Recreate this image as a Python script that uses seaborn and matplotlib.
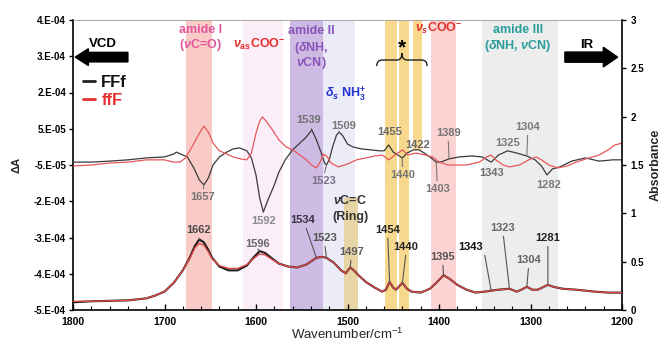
import numpy as np
import pandas as pd
import matplotlib
matplotlib.use("Agg")
import matplotlib.pyplot as plt
import seaborn as sns
from matplotlib.patches import FancyArrow, PathPatch
from matplotlib.path import Path
from matplotlib.lines import Line2D

# VCD spectra, Delta A in units of 1e-5
vcd_wn_FFf = [1800, 1780, 1760, 1740, 1720, 1700, 1690, 1687, 1680, 1675, 1668, 1662, 1657, 1652, 1647,
              1640, 1632, 1625, 1618, 1610, 1605, 1600, 1596, 1592, 1587, 1580, 1575, 1568, 1560, 1552,
              1545, 1539, 1534, 1529, 1525, 1523, 1520, 1516, 1512, 1509, 1505, 1500, 1494, 1485, 1475,
              1465, 1460, 1455, 1450, 1445, 1440, 1435, 1428, 1422, 1416, 1410, 1403, 1398, 1389, 1378,
              1364, 1353, 1343, 1335, 1325, 1315, 1304, 1295, 1288, 1282, 1276, 1268, 1255, 1240, 1225,
              1210, 1200]
vcd_FFf = [-4.1, -4.1, -3.8, -3.4, -2.8, -2.5, -1.6, -1.0, -1.9, -2.5, -5.9, -9.6, -11.2, -9.0, -5.0,
           -2.5, -1.0, 0.0, 0.3, -0.6, -2.8, -8.1, -15.2, -19.6, -15.9, -11.2, -7.2, -3.4, -0.3, 1.8,
           3.7, 5.9, 2.8, -1.0, -4.4, -5.0, -3.4, 0.9, 4.3, 5.2, 4.0, 1.5, 0.6, 0.0, -0.3,
           -0.6, -0.6, 1.2, -1.0, -1.9, -2.8, -1.3, -0.3, -0.3, -1.3, -2.5, -4.1, -4.1, -3.1, -2.5,
           -2.2, -2.5, -4.1, -1.9, -0.6, -1.3, -2.2, -3.4, -5.3, -8.1, -6.2, -5.6, -3.8, -2.8, -3.8,
           -3.4, -3.4]

vcd_wn_ffF = [1800, 1780, 1760, 1740, 1720, 1700, 1690, 1683, 1677, 1670, 1663, 1657, 1652, 1647, 1640,
              1632, 1625, 1617, 1610, 1605, 1600, 1596, 1593, 1588, 1582, 1575, 1567, 1560, 1552, 1545,
              1538, 1534, 1530, 1526, 1522, 1518, 1510, 1500, 1490, 1480, 1470, 1462, 1455, 1448, 1440,
              1434, 1425, 1415, 1407, 1400, 1390, 1370, 1356, 1348, 1343, 1338, 1330, 1323, 1312, 1302,
              1294, 1288, 1280, 1270, 1260, 1250, 1236, 1225, 1215, 1208, 1200]
vcd_ffF = [-5.3, -5.0, -4.4, -4.1, -3.4, -3.4, -4.1, -4.1, -2.8, 0.6, 4.3, 7.1, 5.2, 1.8, -0.6,
           -1.6, -2.5, -3.1, -3.4, -1.3, 4.9, 8.6, 9.9, 8.3, 5.9, 2.8, 0.6, -0.3, -1.9, -3.4,
           -5.3, -5.9, -4.1, -1.6, -2.5, -4.4, -5.6, -4.7, -3.4, -2.8, -2.2, -1.9, -3.4, -1.9, -0.3,
           -1.9, -1.3, -1.9, -2.5, -4.1, -5.0, -5.0, -4.1, -2.5, -1.9, -3.4, -5.0, -5.6, -5.0, -3.4,
           -2.5, -3.4, -5.0, -5.9, -5.3, -4.1, -2.8, -1.9, -0.3, 1.2, 1.8]

# IR absorbance
ir_wn = [1800, 1780, 1760, 1740, 1720, 1710, 1700, 1690, 1680, 1672, 1667, 1662, 1657, 1652, 1648,
         1640, 1630, 1620, 1610, 1603, 1596, 1590, 1582, 1575, 1565, 1555, 1545, 1534, 1528, 1523,
         1515, 1507, 1502, 1497, 1493, 1488, 1480, 1470, 1462, 1458, 1454, 1450, 1447, 1440, 1435,
         1430, 1420, 1410, 1403, 1395, 1388, 1380, 1370, 1360, 1350, 1343, 1335, 1323, 1315, 1310,
         1304, 1298, 1292, 1281, 1275, 1265, 1250, 1230, 1215, 1200]
ir_FFf = [0.08, 0.09, 0.095, 0.10, 0.12, 0.15, 0.19, 0.28, 0.41, 0.55, 0.66, 0.73, 0.70, 0.62, 0.54,
          0.45, 0.41, 0.41, 0.46, 0.54, 0.61, 0.59, 0.53, 0.48, 0.45, 0.44, 0.47, 0.54, 0.55, 0.54,
          0.49, 0.41, 0.38, 0.44, 0.41, 0.36, 0.29, 0.23, 0.19, 0.21, 0.29, 0.23, 0.21, 0.28, 0.22,
          0.19, 0.18, 0.22, 0.28, 0.36, 0.32, 0.26, 0.21, 0.18, 0.19, 0.20, 0.21, 0.22, 0.19, 0.21,
          0.24, 0.21, 0.21, 0.26, 0.24, 0.22, 0.21, 0.19, 0.18, 0.18]
ir_ffF = [0.09, 0.09, 0.095, 0.10, 0.12, 0.15, 0.19, 0.28, 0.41, 0.54, 0.64, 0.69, 0.67, 0.60, 0.53,
          0.46, 0.43, 0.43, 0.47, 0.53, 0.58, 0.57, 0.52, 0.48, 0.45, 0.44, 0.47, 0.54, 0.55, 0.54,
          0.49, 0.41, 0.38, 0.44, 0.41, 0.36, 0.29, 0.23, 0.19, 0.21, 0.29, 0.23, 0.21, 0.28, 0.22,
          0.19, 0.18, 0.22, 0.28, 0.36, 0.32, 0.26, 0.21, 0.18, 0.19, 0.20, 0.21, 0.22, 0.19, 0.21,
          0.24, 0.21, 0.21, 0.26, 0.24, 0.22, 0.21, 0.19, 0.18, 0.18]

left_ticklabels = ["-5.E-04", "-4.E-04", "-3.E-04", "-2.E-04", "-5.E-05", "5.E-05", "2.E-04", "3.E-04", "4.E-04"]
right_ticklabels = ["0", "0.5", "1", "1.5", "2", "2.5", "3"]

# assignment bands: (start, end, colour, ymin, ymax)
bands = [
    (1677, 1648, "#f9cbc6", 0, 1),
    (1614, 1570, "#fbeef8", 0, 1),
    (1563, 1527, "#cdbbe3", 0, 1),
    (1527, 1492, "#ececf9", 0, 1),
    (1504, 1489, "#e8d5a6", 0, 0.386),
    (1459, 1446, "#f7d88c", 0, 1),
    (1444, 1433, "#f7d88c", 0, 1),
    (1428, 1419, "#f7d88c", 0.552, 1),
    (1409, 1381, "#fcd3d3", 0, 1),
    (1353, 1270, "#ededed", 0, 1),
]

band_labels = [
    ("amide I", 1661, 0.966, "#e2579b"),
    ("($\\nu$C=O)", 1661, 0.914, "#e2579b"),
    ("$\\nu_{\\mathrm{as}}$COO$^{-}$", 1596, 0.917, "#e3302b"),
    ("amide II", 1540, 0.962, "#8a55b8"),
    ("($\\delta$NH,", 1540, 0.903, "#8a55b8"),
    ("$\\nu$CN)", 1540, 0.852, "#8a55b8"),
    ("$\\delta_{s}$ NH$_{3}^{+}$", 1502, 0.745, "#2233d0"),
    ("$\\nu_{s}$COO$^{-}$", 1400, 0.972, "#e3302b"),
    ("amide III", 1314, 0.966, "#2a9d9b"),
    ("($\\delta$NH, $\\nu$CN)", 1314, 0.910, "#2a9d9b"),
    ("$\\nu$C=C", 1497, 0.379, "#333333"),
    ("(Ring)", 1497, 0.321, "#333333"),
]

# peak labels: text, text wn, text y (axes frac), peak wn (None = no line), relpos, colour
vcd_peaks = [
    ("1657", 1658, 0.390, 1657, (0.5, 1), "#767676"),
    ("1592", 1592, 0.307, 1592, (0.5, 1), "#8a8a8a"),
    ("1539", 1543, 0.655, 1539, (0.6, 0), "#707070"),
    ("1523", 1526, 0.445, 1523, (0.5, 1), "#7b7288"),
    ("1509", 1504, 0.634, 1509, (0.3, 0), "#767676"),
    ("1455", 1454, 0.614, None, None, "#6a6a6a"),
    ("1440", 1440, 0.466, 1440, (0.5, 1), "#767676"),
    ("1422", 1423, 0.569, None, None, "#6a6a6a"),
    ("1389", 1390, 0.610, 1389, (0.5, 0), "#767676"),
    ("1403", 1402, 0.417, 1403, (0.5, 1), "#767676"),
    ("1343", 1343, 0.472, None, None, "#707070"),
    ("1325", 1325, 0.576, None, None, "#7a7a7a"),
    ("1304", 1303, 0.631, 1304, (0.5, 0), "#7a7a7a"),
    ("1282", 1280, 0.431, None, None, "#7a7a7a"),
]
ir_peaks = [
    ("1662", 1663, 0.276, 1662, (0.5, 0), "#4a4a4a"),
    ("1596", 1598, 0.228, 1596, (0.5, 0), "#666666"),
    ("1534", 1549, 0.310, 1534, (0.6, 0), "#3a3045"),
    ("1523", 1525, 0.248, 1523, (0.5, 0), "#555555"),
    ("1497", 1496, 0.200, 1497, (0.5, 0), "#606060"),
    ("1454", 1456, 0.276, 1454, (0.5, 0), "#222222"),
    ("1440", 1436, 0.217, 1440, (0.5, 0), "#222222"),
    ("1395", 1396, 0.183, 1395, (0.5, 0), "#555555"),
    ("1343", 1365, 0.217, 1343, (1.0, 0.5), "#111111"),
    ("1323", 1330, 0.283, 1323, (0.5, 0), "#666666"),
    ("1304", 1302, 0.172, 1304, (0.5, 0), "#666666"),
    ("1281", 1281, 0.248, 1281, (0.5, 0), "#222222"),
]


def value_at(wn, xs, ys):
    return np.interp(wn, xs[::-1], ys[::-1])


sns.set_style("ticks")
plt.rcParams["font.family"] = ["Liberation Sans", "DejaVu Sans"]
plt.rcParams["mathtext.fontset"] = "custom"
plt.rcParams["mathtext.rm"] = "Liberation Sans:bold"
plt.rcParams["mathtext.it"] = "Liberation Sans:italic:bold"
plt.rcParams["mathtext.bf"] = "Liberation Sans:bold"

fig = plt.figure(figsize=(6.64, 3.43), dpi=100)
ax = fig.add_axes([73 / 664, 33 / 343, 549 / 664, 290 / 343])
ax2 = ax.twinx()

for start, end, col, y0, y1 in bands:
    ax.axvspan(end, start, ymin=y0, ymax=y1, color=col, lw=0, zorder=0)

vcd_black = np.array(vcd_FFf) * 1e-5
vcd_red = np.array(vcd_ffF) * 1e-5
df_vcd1 = pd.DataFrame({"wn": vcd_wn_FFf, "dA": vcd_black})
df_vcd2 = pd.DataFrame({"wn": vcd_wn_ffF, "dA": vcd_red})
df_ir = pd.DataFrame({"wn": ir_wn, "FFf": ir_FFf, "ffF": ir_ffF})

sns.lineplot(data=df_vcd1, x="wn", y="dA", ax=ax, color="#3a3a3a", lw=0.9, estimator=None, sort=False, zorder=3)
sns.lineplot(data=df_vcd2, x="wn", y="dA", ax=ax, color="#e8585a", lw=0.9, estimator=None, sort=False, zorder=3)
sns.lineplot(data=df_ir, x="wn", y="FFf", ax=ax2, color="#1e1e1e", lw=1.5, estimator=None, sort=False, zorder=3)
sns.lineplot(data=df_ir, x="wn", y="ffF", ax=ax2, color="#e04848", lw=1.0, estimator=None, sort=False, zorder=4)

ax.set_xlim(1800, 1200)
ax.set_ylim(-5e-4, 4e-4)
ax2.set_ylim(0, 3)

ax.set_xticks(np.arange(1800, 1199, -100), [str(v) for v in range(1800, 1199, -100)],
              fontsize=7.5, fontweight="bold")
ax.set_xticks(np.arange(1800, 1199, -20), minor=True)
ax.set_yticks(np.linspace(-5e-4, 4e-4, 9), left_ticklabels, fontsize=7, fontweight="bold")
ax2.set_yticks(np.arange(0, 3.01, 0.5), right_ticklabels, fontsize=7, fontweight="bold")
ax.tick_params(axis="x", which="major", direction="in", length=4, width=1, colors="k", pad=5)
ax.tick_params(axis="x", which="minor", direction="in", length=3, width=0.8, colors="k")
ax.tick_params(axis="y", direction="out", length=3, width=1, colors="k", pad=2)
ax2.tick_params(axis="y", direction="out", length=3, width=1, colors="k", pad=3)

for side in ["left", "bottom"]:
    ax.spines[side].set_color("k")
    ax.spines[side].set_linewidth(1.2)
ax.spines["right"].set_visible(False)
ax.spines["top"].set_color("#9a9a9a")
ax.spines["top"].set_linewidth(0.6)
for side in ["left", "bottom", "top"]:
    ax2.spines[side].set_visible(False)
ax2.spines["right"].set_color("k")
ax2.spines["right"].set_linewidth(1.2)

ax.set_xlabel("Wavenumber/cm$\\mathregular{^{-1}}$", fontsize=9.5, labelpad=0)
ax.set_ylabel("ΔA", fontsize=8, fontweight="bold")
ax.yaxis.set_label_coords(-0.094, 0.5)
ax2.set_ylabel("Absorbance", fontsize=9, fontweight="bold")
ax2.yaxis.set_label_coords(1.05, 0.5)

tr = ax2.get_xaxis_transform()
for txt, x, y, col in band_labels:
    ax2.text(x, y, txt, transform=tr, ha="center", va="center", fontsize=9,
             fontweight="bold", color=col, zorder=6)

# bracket over the starred bands
verts = [(1468, 0.841), (1468, 0.862), (1462, 0.862), (1446, 0.862), (1440.5, 0.862), (1440.5, 0.886),
         (1440.5, 0.862), (1435, 0.862), (1419, 0.862), (1413, 0.862), (1413, 0.841)]
codes = [Path.MOVETO, Path.CURVE3, Path.CURVE3, Path.LINETO, Path.CURVE3, Path.CURVE3,
         Path.CURVE3, Path.CURVE3, Path.LINETO, Path.CURVE3, Path.CURVE3]
ax2.add_patch(PathPatch(Path(verts, codes), transform=tr, fc="none", ec="#222222", lw=1.0, zorder=6))
ax2.text(1440.5, 0.905, "*", transform=tr, ha="center", va="center", fontsize=15,
         fontweight="bold", color="k", zorder=6)

for txt, tx, ty, pk, rp, col in vcd_peaks:
    if pk is None:
        ax.text(tx, ty, txt, transform=ax.get_xaxis_transform(), ha="center", va="center",
                fontsize=8, fontweight="bold", color=col, zorder=6)
    else:
        pv = value_at(pk, vcd_wn_FFf, vcd_black)
        ax.annotate(txt, xy=(pk, pv), xycoords="data", xytext=(tx, ty), textcoords=("data", "axes fraction"),
                    ha="center", va="center", fontsize=8, fontweight="bold", color=col, zorder=6,
                    arrowprops=dict(arrowstyle="-", color=col, lw=0.8, shrinkA=0, shrinkB=0, relpos=rp))

for txt, tx, ty, pk, rp, col in ir_peaks:
    pv = value_at(pk, ir_wn, ir_FFf)
    ax2.annotate(txt, xy=(pk, pv), xycoords="data", xytext=(tx, ty), textcoords=("data", "axes fraction"),
                 ha="center", va="center", fontsize=8, fontweight="bold", color=col, zorder=6,
                 arrowprops=dict(arrowstyle="-", color="#555555", lw=0.8, shrinkA=0, shrinkB=0, relpos=rp))

# VCD / IR arrows
ax2.add_patch(FancyArrow(0.100, 0.872, -0.096, 0, width=0.033, head_width=0.058, head_length=0.024,
                         length_includes_head=True, transform=ax2.transAxes, color="k", zorder=6))
ax2.add_patch(FancyArrow(0.896, 0.872, 0.096, 0, width=0.035, head_width=0.068, head_length=0.026,
                         length_includes_head=True, transform=ax2.transAxes, color="k", zorder=6))
ax2.text(0.055, 0.917, "VCD", transform=ax2.transAxes, ha="center", va="center",
         fontsize=9.5, fontweight="bold", color="k")
ax2.text(0.936, 0.914, "IR", transform=ax2.transAxes, ha="center", va="center",
         fontsize=9.5, fontweight="bold", color="k")

handles = [Line2D([], [], color="#222222", lw=2), Line2D([], [], color="#e53030", lw=2)]
leg = ax2.legend(handles, ["FFf", "ffF"], loc="upper left", bbox_to_anchor=(0.006, 0.835),
                 frameon=False, prop=dict(weight="bold", size=12), handlelength=0.7,
                 handletextpad=0.4, labelspacing=0.2, borderaxespad=0)
leg.get_texts()[0].set_color("#111111")
leg.get_texts()[1].set_color("#e53030")

fig.savefig("out.png", dpi=100)
